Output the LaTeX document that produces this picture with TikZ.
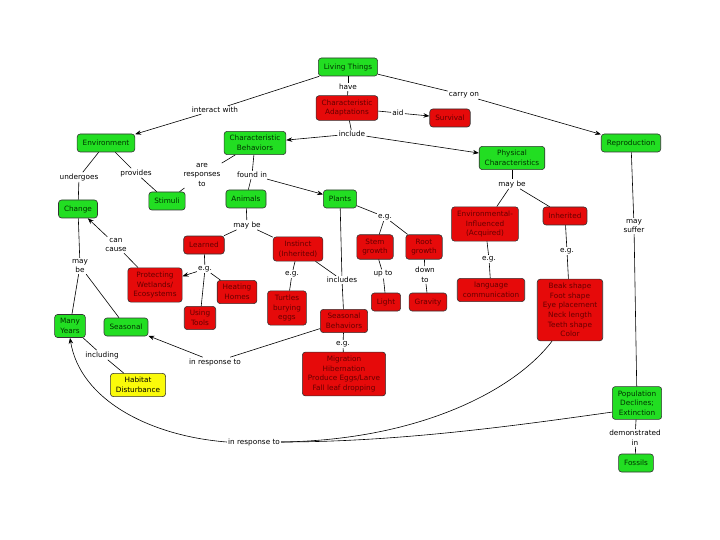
\documentclass[tikz,border=0pt]{standalone}
\usepackage{fontspec}
\setmainfont{DejaVu Sans}
\usepackage{tikz}
\usetikzlibrary{arrows.meta}
\definecolor{cgreen}{RGB}{34,222,34}
\definecolor{cred}{RGB}{230,10,10}
\definecolor{cyellow}{RGB}{250,250,10}

\begin{document}
\begin{tikzpicture}[x=1pt,y=-1pt,>={Stealth[length=6pt,width=4.5pt]},font=\fontsize{7.3}{9.6}\selectfont,
    line width=0.6pt,
    box/.style={draw=black!80,rounded corners=3pt,align=center,inner xsep=5.5pt,inner ysep=4pt,minimum height=18pt},
    gbox/.style={box,fill=cgreen,text=green!20!black},
    rbox/.style={box,fill=cred,text=red!40!black},
    ybox/.style={box,fill=cyellow,text=black},
    lbl/.style={inner sep=1pt,align=center}]
    \useasboundingbox (0,0) rectangle (720,540);
    \node[gbox] (lt) at (348,67) {Living Things};
    \node[rbox] (ca) at (347,108) {Characteristic\\Adaptations};
    \node[rbox] (surv) at (450,118) {Survival};
    \node[gbox] (env) at (106,143) {Environment};
    \node[gbox] (cb) at (255,143) {Characteristic\\Behaviors};
    \node[gbox] (pc) at (512,158) {Physical\\Characteristics};
    \node[gbox] (repro) at (631,143) {Reproduction};
    \node[gbox] (chg) at (78,209) {Change};
    \node[gbox] (stim) at (167,201) {Stimuli};
    \node[gbox] (anim) at (246,199) {Animals};
    \node[gbox] (plant) at (340,199) {Plants};
    \node[rbox] (envinf) at (485,224) {Environmental-\\Influenced\\(Acquired)};
    \node[rbox] (inh) at (565,216) {Inherited};
    \node[rbox] (learn) at (204,245) {Learned};
    \node[rbox] (inst) at (298,249) {Instinct\\(Inherited)};
    \node[rbox] (stem) at (375,247) {Stem\\growth};
    \node[rbox] (root) at (424,247) {Root\\growth};
    \node[rbox] (wet) at (155,285) {Protecting\\Wetlands/\\Ecosystems};
    \node[rbox] (heat) at (237,292) {Heating\\Homes};
    \node[rbox] (tools) at (200,318) {Using\\Tools};
    \node[rbox] (turt) at (287,308) {Turtles\\burying\\eggs};
    \node[rbox] (sbeh) at (344,321) {Seasonal\\Behaviors};
    \node[rbox] (light) at (386,302) {Light};
    \node[rbox] (grav) at (428,302) {Gravity};
    \node[rbox] (lang) at (491,290) {language\\communication};
    \node[rbox] (beak) at (570,310) {Beak shape\\Foot shape\\Eye placement\\Neck length\\Teeth shape\\Color};
    \node[gbox] (years) at (70,326) {Many\\Years};
    \node[gbox] (seas) at (126,327) {Seasonal};
    \node[ybox] (habit) at (138,385) {Habitat\\Disturbance};
    \node[rbox] (migr) at (344,374) {Migration\\Hibernation\\Produce Eggs/Larve\\Fall leaf dropping};
    \node[gbox] (pop) at (637,403) {Population\\Declines;\\Extinction};
    \node[gbox] (foss) at (636,463) {Fossils};
    \node[lbl] (have) at (348,87) {have};
    \node[lbl] (inter) at (215,110) {interact with};
    \node[lbl] (carry) at (464,95) {carry on};
    \node[lbl] (aid) at (398,113) {aid};
    \node[lbl] (incl) at (352,134) {include};
    \node[lbl] (under) at (79,177) {undergoes};
    \node[lbl] (prov) at (136,173) {provides};
    \node[lbl] (resp) at (202,175) {are\\responses\\to};
    \node[lbl] (found) at (252,175) {found in};
    \node[lbl] (maypc) at (512,184) {may be};
    \node[lbl] (suffer) at (634,226) {may\\suffer};
    \node[lbl] (mayan) at (247,225) {may be};
    \node[lbl] (egpl) at (385,217) {e.g.};
    \node[lbl] (incs) at (342,280) {includes};
    \node[lbl] (upto) at (383,274) {up to};
    \node[lbl] (down) at (425,275) {down\\to};
    \node[lbl] (egenv) at (489,259) {e.g.};
    \node[lbl] (eginh) at (567,251) {e.g.};
    \node[lbl] (maych) at (80,266) {may\\be};
    \node[lbl] (cause) at (116,245) {can\\cause};
    \node[lbl] (eglrn) at (205,269) {e.g.};
    \node[lbl] (egins) at (292,274) {e.g.};
    \node[lbl] (egsb) at (343,344) {e.g.};
    \node[lbl] (respa) at (215,362) {in response to};
    \node[lbl] (incing) at (102,355) {including};
    \node[lbl] (respb) at (254,442) {in response to};
    \node[lbl] (demo) at (635,438) {demonstrated\\in};
    \draw (lt) -- (have);
    \draw (have) -- (ca);
    \draw (lt) -- (inter);
    \draw[->] (inter) -- (env);
    \draw (lt) -- (carry);
    \draw[->] (carry) -- (repro);
    \draw (ca) -- (aid);
    \draw[->] (aid) -- (surv);
    \draw (ca) -- (incl);
    \draw[->] (incl) -- (cb);
    \draw[->] (incl) -- (pc);
    \draw (env) -- (under);
    \draw (under) -- (chg);
    \draw (env) -- (prov);
    \draw (prov) -- (stim);
    \draw (cb) -- (resp);
    \draw (resp) -- (stim);
    \draw (cb) -- (found);
    \draw (found) -- (anim);
    \draw[->] (found) -- (plant);
    \draw (pc) -- (maypc);
    \draw (maypc) -- (envinf);
    \draw (maypc) -- (inh);
    \draw (repro) -- (suffer);
    \draw (suffer) -- (pop);
    \draw (anim) -- (mayan);
    \draw (mayan) -- (learn);
    \draw (mayan) -- (inst);
    \draw (plant) -- (egpl);
    \draw (egpl) -- (stem);
    \draw (egpl) -- (root);
    \draw (plant) -- (incs);
    \draw (inst) -- (incs);
    \draw (incs) -- (sbeh);
    \draw (stem) -- (upto);
    \draw (upto) -- (light);
    \draw (root) -- (down);
    \draw (down) -- (grav);
    \draw (envinf) -- (egenv);
    \draw (egenv) -- (lang);
    \draw (inh) -- (eginh);
    \draw (eginh) -- (beak);
    \draw (chg) -- (maych);
    \draw (maych) -- (years);
    \draw (maych) -- (seas);
    \draw (wet) -- (cause);
    \draw[->] (cause) -- (chg);
    \draw (learn) -- (eglrn);
    \draw[->] (eglrn) -- (wet);
    \draw (eglrn) -- (heat);
    \draw (eglrn) -- (tools);
    \draw (inst) -- (egins);
    \draw (egins) -- (turt);
    \draw (sbeh) -- (egsb);
    \draw (egsb) -- (migr);
    \draw (sbeh) -- (respa);
    \draw[->] (respa) -- (seas);
    \draw (years) -- (incing);
    \draw (incing) -- (habit);
    \draw (beak.240) .. controls (515,390) and (420,440) .. (respb.east);
    \draw (pop.200) .. controls (520,425) and (400,442) .. (respb.east);
    \draw[->] (respb.west) .. controls (150,436) and (80,400) .. (years.south);
    \draw (pop) -- (demo);
    \draw (demo) -- (foss);
\end{tikzpicture}
\end{document}
